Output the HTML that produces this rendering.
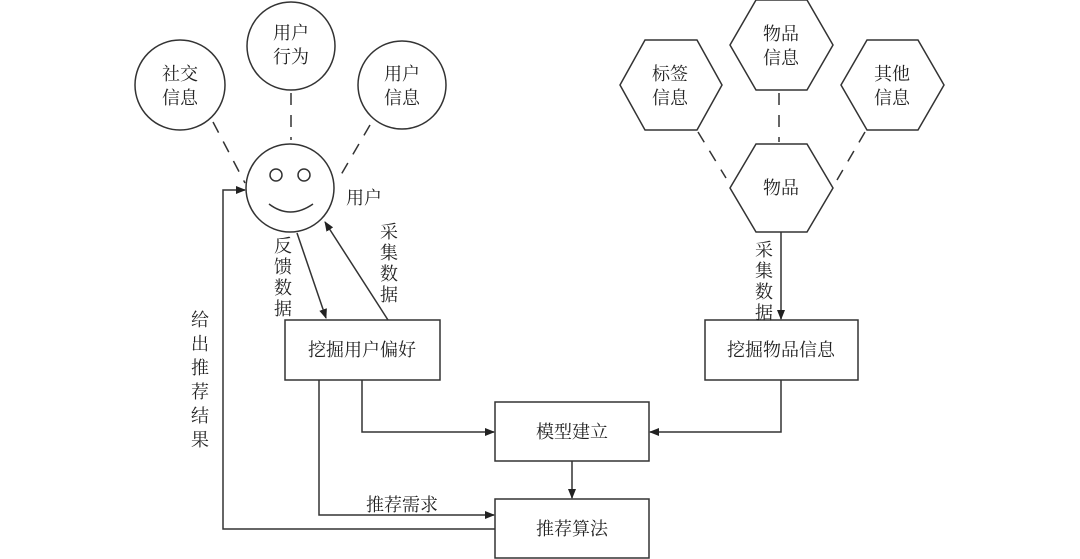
<!DOCTYPE html>
<html><head><meta charset="utf-8"><style>
html,body{margin:0;padding:0;background:#fff;}
svg{display:block;}
text{font-family:"Liberation Serif","Noto Serif CJK SC",serif;font-size:18px;fill:#222;}
</style></head><body>
<svg width="1080" height="559" viewBox="0 0 1080 559" xmlns="http://www.w3.org/2000/svg">
<defs>
<marker id="a" markerWidth="10" markerHeight="8" refX="9" refY="4" orient="auto" markerUnits="userSpaceOnUse">
<path d="M0,0 L10,4 L0,8 z" fill="#222"/></marker>
</defs>
<g fill="none" stroke="#333" stroke-width="1.5">
<circle cx="180" cy="85" r="45"/>
<circle cx="291" cy="46" r="44"/>
<circle cx="402" cy="85" r="44"/>
<circle cx="290" cy="188" r="44"/>
<circle cx="276" cy="175" r="6"/>
<circle cx="304" cy="175" r="6"/>
<path d="M269,204 Q290,220 313,204"/>
<g stroke-dasharray="12,10">
<line x1="213" y1="122" x2="245" y2="183"/>
<line x1="291" y1="93" x2="291" y2="140"/>
<line x1="370" y1="125" x2="338" y2="180"/>
<line x1="698" y1="132" x2="726" y2="178"/>
<line x1="779" y1="93" x2="779" y2="142"/>
<line x1="865" y1="132" x2="837" y2="180"/>
</g>
<polygon points="620,85 645,40 697,40 722,85 697,130 645,130"/>
<polygon points="730,45 756,0 807,0 833,45 807,90 756,90"/>
<polygon points="841,85 867,40 918,40 944,85 918,130 867,130"/>
<polygon points="730,188 756,144 807,144 833,188 807,232 756,232"/>
<rect x="285" y="320" width="155" height="60"/>
<rect x="705" y="320" width="153" height="60"/>
<rect x="495" y="402" width="154" height="59"/>
<rect x="495" y="499" width="154" height="59"/>
<line x1="297" y1="233" x2="326" y2="318" marker-end="url(#a)"/>
<line x1="388" y1="320" x2="325" y2="222" marker-end="url(#a)"/>
<line x1="781" y1="232" x2="781" y2="319" marker-end="url(#a)"/>
<polyline points="362,380 362,432 494,432" marker-end="url(#a)"/>
<polyline points="781,380 781,432 650,432" marker-end="url(#a)"/>
<line x1="572" y1="461" x2="572" y2="498" marker-end="url(#a)"/>
<polyline points="319,380 319,515 494,515" marker-end="url(#a)"/>
<polyline points="495,529 223,529 223,190 245,190" marker-end="url(#a)"/>
</g>
<g text-anchor="middle">
<text x="180" y="80">社交</text><text x="180" y="104">信息</text>
<text x="291" y="39">用户</text><text x="291" y="63">行为</text>
<text x="402" y="80">用户</text><text x="402" y="104">信息</text>
<text x="670" y="80">标签</text><text x="670" y="104">信息</text>
<text x="781" y="40">物品</text><text x="781" y="64">信息</text>
<text x="892" y="80">其他</text><text x="892" y="104">信息</text>
<text x="781" y="194">物品</text>
<text x="362" y="356">挖掘用户偏好</text>
<text x="781" y="356">挖掘物品信息</text>
<text x="572" y="438">模型建立</text>
<text x="572" y="535">推荐算法</text>
<text x="402" y="511">推荐需求</text>
<text x="364" y="204">用户</text>
<text x="283" y="252">反</text><text x="283" y="273">馈</text><text x="283" y="294">数</text><text x="283" y="315">据</text>
<text x="389" y="238">采</text><text x="389" y="259">集</text><text x="389" y="280">数</text><text x="389" y="301">据</text>
<text x="764" y="256">采</text><text x="764" y="277">集</text><text x="764" y="298">数</text><text x="764" y="319">据</text>
<text x="200" y="326">给</text><text x="200" y="350">出</text><text x="200" y="374">推</text><text x="200" y="398">荐</text><text x="200" y="422">结</text><text x="200" y="446">果</text>
</g>
</svg>
</body></html>
